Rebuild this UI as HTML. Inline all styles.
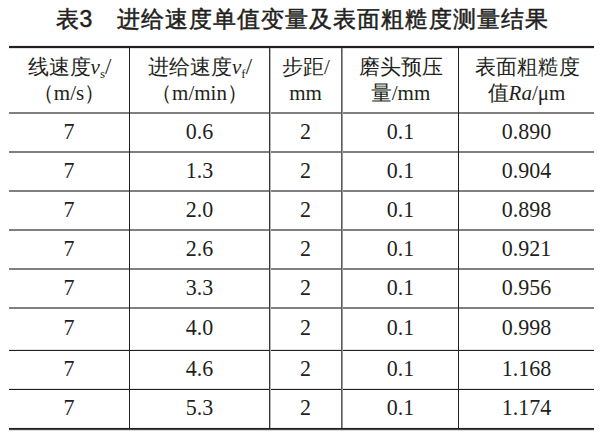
<!DOCTYPE html>
<html><head><meta charset="utf-8"><style>
html,body{margin:0;padding:0;background:#fff}
body{width:609px;height:435px;position:relative;overflow:hidden;font-family:"Liberation Serif",serif;color:#231f20}
.l{position:absolute}
.t{position:absolute;text-align:center;font-size:22px;line-height:30px;white-space:nowrap;transform:scaleY(1.08);transform-origin:50% 8px}
.h{position:absolute;text-align:center;font-size:21px;line-height:26.5px;white-space:nowrap}
.h sub{font-size:13px;vertical-align:-3.5px;line-height:0}
.h .sl{font-size:23px;line-height:0}
.h .l1{position:relative;top:1px;left:0.5px}
.title{position:absolute;left:-2px;top:3px;width:609px;text-align:center;font-family:"Liberation Sans",sans-serif;font-weight:400;-webkit-text-stroke:0.5px #231f20;font-size:23px;letter-spacing:1px;line-height:32px;white-space:nowrap}
</style></head><body>
<div class="l" style="left:9px;top:45px;width:585px;height:1px;background:#f0f0f0"></div>
<div class="l" style="left:9px;top:46px;width:585px;height:2px;background:#231f20"></div>
<div class="l" style="left:9px;top:48px;width:585px;height:1px;background:#e2e2e2"></div>
<div class="l" style="left:9px;top:427px;width:585px;height:1px;background:#f2f2f2"></div>
<div class="l" style="left:9px;top:428px;width:585px;height:1px;background:#231f20"></div>
<div class="l" style="left:9px;top:429px;width:585px;height:1px;background:#484647"></div>
<div class="l" style="left:9px;top:430px;width:585px;height:1px;background:#dcdcdc"></div>
<div class="l" style="left:9px;top:112px;width:585px;height:2px;background:#817f80"></div>
<div class="l" style="left:9px;top:151px;width:585px;height:2px;background:#817f80"></div>
<div class="l" style="left:9px;top:190px;width:585px;height:2px;background:#817f80"></div>
<div class="l" style="left:9px;top:229px;width:585px;height:2px;background:#817f80"></div>
<div class="l" style="left:9px;top:268px;width:585px;height:2px;background:#817f80"></div>
<div class="l" style="left:9px;top:307px;width:585px;height:2px;background:#817f80"></div>
<div class="l" style="left:9px;top:349px;width:585px;height:1px;background:#e4e4e4"></div>
<div class="l" style="left:9px;top:350px;width:585px;height:1px;background:#231f20"></div>
<div class="l" style="left:9px;top:388px;width:585px;height:1px;background:#e4e4e4"></div>
<div class="l" style="left:9px;top:389px;width:585px;height:1px;background:#231f20"></div>
<div class="l" style="left:129px;top:48px;width:1px;height:380px;background:#231f20"></div>
<div class="l" style="left:269px;top:48px;width:1px;height:380px;background:#363435"></div>
<div class="l" style="left:270px;top:48px;width:1px;height:380px;background:#b8b6b7"></div>
<div class="l" style="left:341px;top:48px;width:1px;height:380px;background:#5c5a5b"></div>
<div class="l" style="left:342px;top:48px;width:1px;height:380px;background:#9a9899"></div>
<div class="l" style="left:458px;top:48px;width:1px;height:380px;background:#231f20"></div>
<div class="title">表3　进给速度单值变量及表面粗糙度测量结果</div>
<div class="h" style="left:9px;width:120px;top:53px"><span class=l1>线速度<i>v</i><sub>s</sub><span class=sl>/</span></span><br>（m/s）</div>
<div class="h" style="left:130px;width:139px;top:53px"><span class=l1>进给速度<i>v</i><sub>f</sub><span class=sl>/</span></span><br>（m/min）</div>
<div class="h" style="left:270px;width:71px;top:53px"><span class=l1>步距/</span><br>mm</div>
<div class="h" style="left:343px;width:115px;top:53px"><span class=l1>磨头预压</span><br>量/mm</div>
<div class="h" style="left:459px;width:135px;top:53px"><span class=l1>表面粗糙度</span><br>值<i>Ra</i>/μm</div>
<div class="t" style="left:9px;width:120px;top:116.3px">7</div>
<div class="t" style="left:130px;width:139px;top:116.3px">0.6</div>
<div class="t" style="left:270px;width:71px;top:116.3px">2</div>
<div class="t" style="left:343px;width:115px;top:116.3px">0.1</div>
<div class="t" style="left:459px;width:135px;top:116.3px">0.890</div>
<div class="t" style="left:9px;width:120px;top:155.3px">7</div>
<div class="t" style="left:130px;width:139px;top:155.3px">1.3</div>
<div class="t" style="left:270px;width:71px;top:155.3px">2</div>
<div class="t" style="left:343px;width:115px;top:155.3px">0.1</div>
<div class="t" style="left:459px;width:135px;top:155.3px">0.904</div>
<div class="t" style="left:9px;width:120px;top:194.3px">7</div>
<div class="t" style="left:130px;width:139px;top:194.3px">2.0</div>
<div class="t" style="left:270px;width:71px;top:194.3px">2</div>
<div class="t" style="left:343px;width:115px;top:194.3px">0.1</div>
<div class="t" style="left:459px;width:135px;top:194.3px">0.898</div>
<div class="t" style="left:9px;width:120px;top:233.3px">7</div>
<div class="t" style="left:130px;width:139px;top:233.3px">2.6</div>
<div class="t" style="left:270px;width:71px;top:233.3px">2</div>
<div class="t" style="left:343px;width:115px;top:233.3px">0.1</div>
<div class="t" style="left:459px;width:135px;top:233.3px">0.921</div>
<div class="t" style="left:9px;width:120px;top:272.3px">7</div>
<div class="t" style="left:130px;width:139px;top:272.3px">3.3</div>
<div class="t" style="left:270px;width:71px;top:272.3px">2</div>
<div class="t" style="left:343px;width:115px;top:272.3px">0.1</div>
<div class="t" style="left:459px;width:135px;top:272.3px">0.956</div>
<div class="t" style="left:9px;width:120px;top:312.3px">7</div>
<div class="t" style="left:130px;width:139px;top:312.3px">4.0</div>
<div class="t" style="left:270px;width:71px;top:312.3px">2</div>
<div class="t" style="left:343px;width:115px;top:312.3px">0.1</div>
<div class="t" style="left:459px;width:135px;top:312.3px">0.998</div>
<div class="t" style="left:9px;width:120px;top:353.3px">7</div>
<div class="t" style="left:130px;width:139px;top:353.3px">4.6</div>
<div class="t" style="left:270px;width:71px;top:353.3px">2</div>
<div class="t" style="left:343px;width:115px;top:353.3px">0.1</div>
<div class="t" style="left:459px;width:135px;top:353.3px">1.168</div>
<div class="t" style="left:9px;width:120px;top:392.3px">7</div>
<div class="t" style="left:130px;width:139px;top:392.3px">5.3</div>
<div class="t" style="left:270px;width:71px;top:392.3px">2</div>
<div class="t" style="left:343px;width:115px;top:392.3px">0.1</div>
<div class="t" style="left:459px;width:135px;top:392.3px">1.174</div>
</body></html>
